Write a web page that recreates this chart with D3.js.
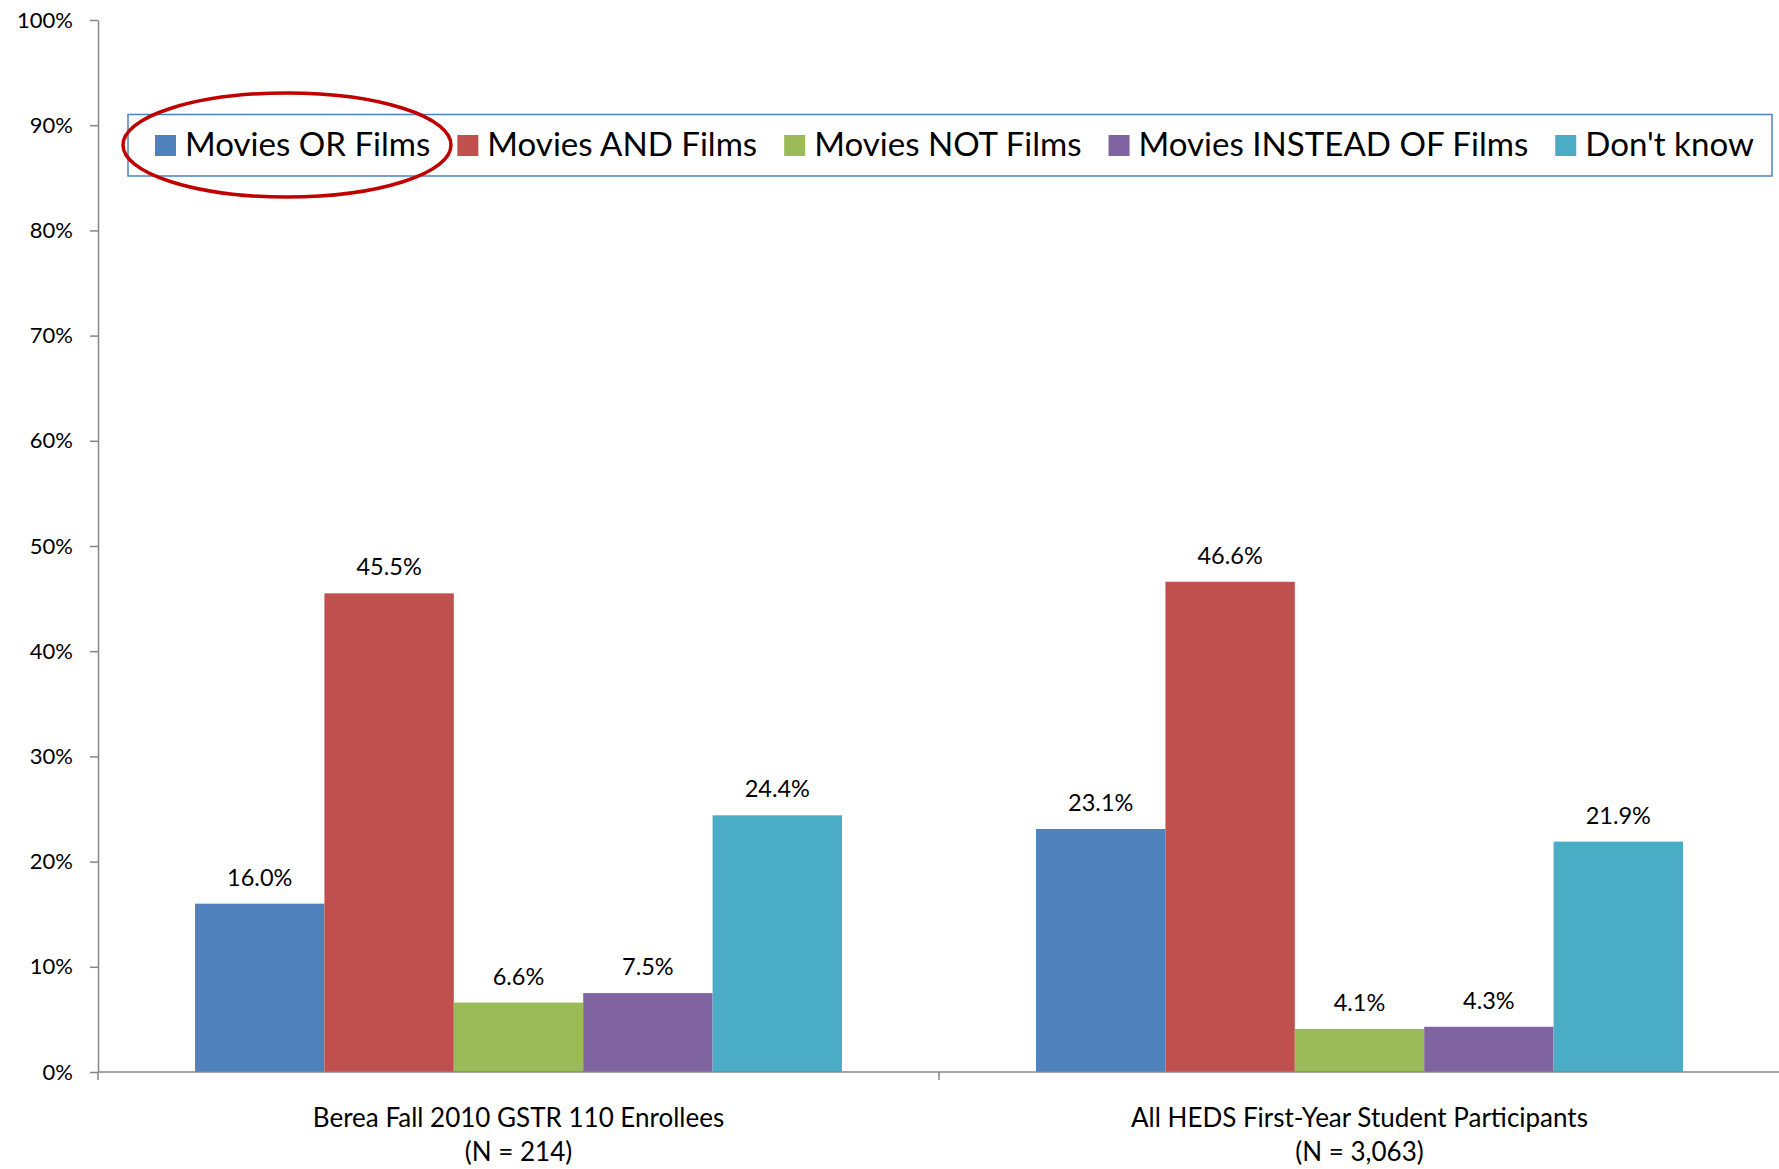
<!DOCTYPE html>
<html lang="en">
<head>
  <meta charset="UTF-8">
  <title>Movies vs Films</title>
  <script src="https://d3js.org/d3.v7.min.js"></script>
  <style>
    body { margin: 0; background: #fff; }
    text { font-family: Lato, "Open Sans", sans-serif; fill: #000; }
  </style>
</head>
<body>
  <div class="canvas"></div>
  <script>
    // data
    const categories = ['Berea Fall 2010 GSTR 110 Enrollees', 'All HEDS First-Year Student Participants'];
    const categoryNotes = ['(N = 214)', '(N = 3,063)'];
    const seriesNames = ['Movies OR Films', 'Movies AND Films', 'Movies NOT Films', 'Movies INSTEAD OF Films', "Don't know"];
    const moviesOr = [16.0, 23.1];
    const moviesAnd = [45.5, 46.6];
    const moviesNot = [6.6, 4.1];
    const moviesInstead = [7.5, 4.3];
    const dontKnow = [24.4, 21.9];
    const yTicks = [0, 10, 20, 30, 40, 50, 60, 70, 80, 90, 100];

    const colors = ['#4F81BD', '#C0504D', '#9BBB59', '#8064A2', '#4BACC6'];
    const seriesValues = [moviesOr, moviesAnd, moviesNot, moviesInstead, dontKnow];

    const width = 1779;
    const height = 1169;
    const [mt, ml] = [20, 98];
    const plotBottom = 1072;
    const plotRight = 1780;

    const svg = d3.select('.canvas')
      .append('svg')
      .attr('width', width)
      .attr('height', height)

    const x0 = d3.scaleBand()
      .domain(categories)
      .range([ml, plotRight])

    // excel gap width 150%
    const barW = x0.bandwidth() / (seriesNames.length + 1.5);
    const x1 = d3.scaleBand()
      .domain(seriesNames)
      .range([barW * 0.75, x0.bandwidth() - barW * 0.75])

    const y = d3.scaleLinear()
      .domain([0, 100])
      .range([plotBottom, mt])

    // y axis
    const yAxis = svg.append('g')
      .attr('transform', `translate(${ml},0)`)
      .call(d3.axisLeft(y).tickValues(yTicks).tickFormat(d => d + '%').tickSize(8).tickSizeOuter(0).tickPadding(17))
    yAxis.select('.domain').attr('stroke', '#868686').attr('stroke-width', 1.5)
    yAxis.selectAll('.tick line').attr('stroke', '#868686').attr('stroke-width', 1.5)
    yAxis.selectAll('.tick text').attr('font-size', 22).attr('font-family', 'Lato').attr('fill', '#000')

    // bars
    const groups = svg.selectAll('g.group')
      .data(categories)
      .enter()
      .append('g')
      .attr('class', 'group')
      .attr('transform', d => `translate(${x0(d)},0)`)

    groups.each(function (cat, ci) {
      const g = d3.select(this);
      const rows = seriesNames.map((s, si) => ({ s, si, v: seriesValues[si][ci] }));
      g.selectAll('rect')
        .data(rows)
        .enter()
        .append('rect')
        .attr('x', d => x1(d.s))
        .attr('y', d => y(d.v))
        .attr('width', x1.bandwidth())
        .attr('height', d => plotBottom - y(d.v))
        .attr('fill', d => colors[d.si])
      g.selectAll('text.val')
        .data(rows)
        .enter()
        .append('text')
        .attr('class', 'val')
        .attr('x', d => x1(d.s) + x1.bandwidth() / 2)
        .attr('y', d => y(d.v) - 18)
        .attr('text-anchor', 'middle')
        .attr('font-size', 23.5)
        .text(d => d.v.toFixed(1) + '%')
    })

    // x axis
    const xAxis = svg.append('g')
    xAxis.append('line')
      .attr('x1', ml).attr('x2', width)
      .attr('y1', plotBottom).attr('y2', plotBottom)
      .attr('stroke', '#868686').attr('stroke-width', 1.5)
    xAxis.selectAll('line.tick')
      .data(categories)
      .enter()
      .append('line')
      .attr('class', 'tick')
      .attr('x1', d => x0(d)).attr('x2', d => x0(d))
      .attr('y1', plotBottom).attr('y2', plotBottom + 8)
      .attr('stroke', '#868686').attr('stroke-width', 1.5)
    xAxis.selectAll('text.cat')
      .data(categories)
      .enter()
      .append('text')
      .attr('class', 'cat')
      .attr('x', d => x0(d) + x0.bandwidth() / 2)
      .attr('y', 1127)
      .attr('text-anchor', 'middle')
      .attr('font-size', 26)
      .text(d => d)
    xAxis.selectAll('text.note')
      .data(categoryNotes)
      .enter()
      .append('text')
      .attr('class', 'note')
      .attr('x', (d, i) => x0(categories[i]) + x0.bandwidth() / 2)
      .attr('y', 1161)
      .attr('text-anchor', 'middle')
      .attr('font-size', 26)
      .text(d => d)

    // legend
    const legend = svg.append('g')
    legend.append('rect')
      .attr('x', 128).attr('y', 114.5)
      .attr('width', 1772 - 128).attr('height', 61.5)
      .attr('fill', '#fff')
      .attr('stroke', '#4F81BD').attr('stroke-width', 1.5)

    let lx = 155;
    seriesNames.forEach((name, i) => {
      legend.append('rect')
        .attr('x', lx).attr('y', 135)
        .attr('width', 21).attr('height', 21)
        .attr('fill', colors[i])
      const t = legend.append('text')
        .attr('x', lx + 30).attr('y', 156)
        .attr('font-size', 33.1)
        .text(name)
      lx += 30 + t.node().getComputedTextLength() + 27;
    })

    // highlight ellipse
    svg.append('ellipse')
      .attr('cx', 287).attr('cy', 145)
      .attr('rx', 164).attr('ry', 52)
      .attr('fill', 'none')
      .attr('stroke', '#C00000')
      .attr('stroke-width', 3.5)
  </script>
</body>
</html>
